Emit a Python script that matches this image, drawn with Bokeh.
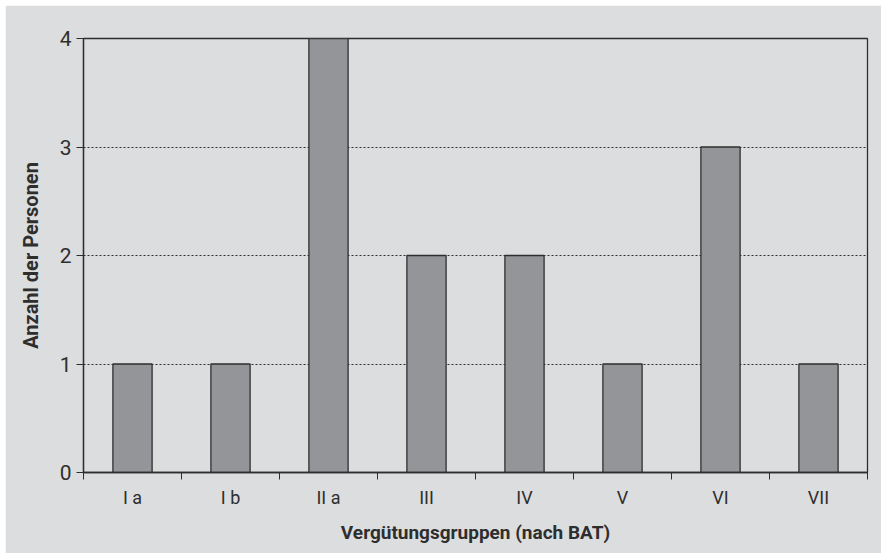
from bokeh.plotting import figure
from bokeh.models import FixedTicker, Range1d, ColumnDataSource, Spacer
from bokeh.layouts import row, column
from bokeh.embed import file_html
from bokeh.resources import INLINE

categories = ["I a", "I b", "II a", "III", "IV", "V", "VI", "VII"]
counts = [1, 1, 4, 2, 2, 1, 3, 1]
y_ticks = [0, 1, 2, 3, 4]

x_pos = [i + 0.5 for i in range(len(categories))]
src = ColumnDataSource(dict(x=x_pos, top=counts))

FONT = "Roboto"
BG = "#dcdddf"
DARK = "#2e2e2e"

p = figure(width=876, height=548, output_backend="svg", toolbar_location=None,
           x_range=Range1d(0, len(categories)), y_range=Range1d(0, 4))
p.background_fill_color = BG
p.border_fill_color = BG
p.outline_line_color = DARK
p.outline_line_width = 1.3
p.min_border_left = 78
p.min_border_right = 14
p.min_border_top = 33
p.min_border_bottom = 81

p.vbar(x="x", top="top", bottom=0, width=0.4, source=src,
       fill_color="#949598", line_color=DARK, line_width=1.3)

# x axis: labels at centers, ticks at category boundaries (minor ticks)
p.xaxis.ticker = FixedTicker(ticks=x_pos, minor_ticks=list(range(len(categories) + 1)))
p.xaxis.major_label_overrides = {x: c for x, c in zip(x_pos, categories)}
p.xaxis.major_tick_line_color = None
p.xaxis.minor_tick_line_color = DARK
p.xaxis.minor_tick_out = 7
p.xaxis.minor_tick_in = 0
p.xaxis.axis_line_color = DARK
p.xaxis.axis_line_width = 1.3
p.xaxis.major_label_text_font = FONT
p.xaxis.major_label_text_font_size = "18px"
p.xaxis.major_label_text_color = DARK
p.xaxis.major_label_standoff = 7
p.xaxis.axis_label = "Vergütungsgruppen (nach BAT)"
p.xaxis.axis_label_text_font = FONT
p.xaxis.axis_label_text_font_size = "19px"
p.xaxis.axis_label_text_font_style = "bold"
p.xaxis.axis_label_text_color = DARK
p.xaxis.axis_label_standoff = 10

p.yaxis.ticker = FixedTicker(ticks=y_ticks, minor_ticks=[])
p.yaxis.major_tick_line_color = DARK
p.yaxis.major_tick_out = 7
p.yaxis.major_tick_in = 0
p.yaxis.axis_line_color = DARK
p.yaxis.axis_line_width = 1.3
p.yaxis.major_label_text_font = FONT
p.yaxis.major_label_text_font_size = "21px"
p.yaxis.major_label_text_color = DARK
p.yaxis.major_label_standoff = 5
p.yaxis.axis_label = "Anzahl der Personen"
p.yaxis.axis_label_text_font = FONT
p.yaxis.axis_label_text_font_size = "20px"
p.yaxis.axis_label_text_font_style = "bold"
p.yaxis.axis_label_text_color = DARK
p.yaxis.axis_label_standoff = 14

p.xgrid.grid_line_color = None
p.ygrid.ticker = FixedTicker(ticks=[1, 2, 3])
p.ygrid.grid_line_color = DARK
p.ygrid.grid_line_dash = "2 2"
p.ygrid.grid_line_width = 1.2

layout = row(Spacer(width=5), column(Spacer(height=5), p))
open("out.html", "w").write(file_html(layout, INLINE))
